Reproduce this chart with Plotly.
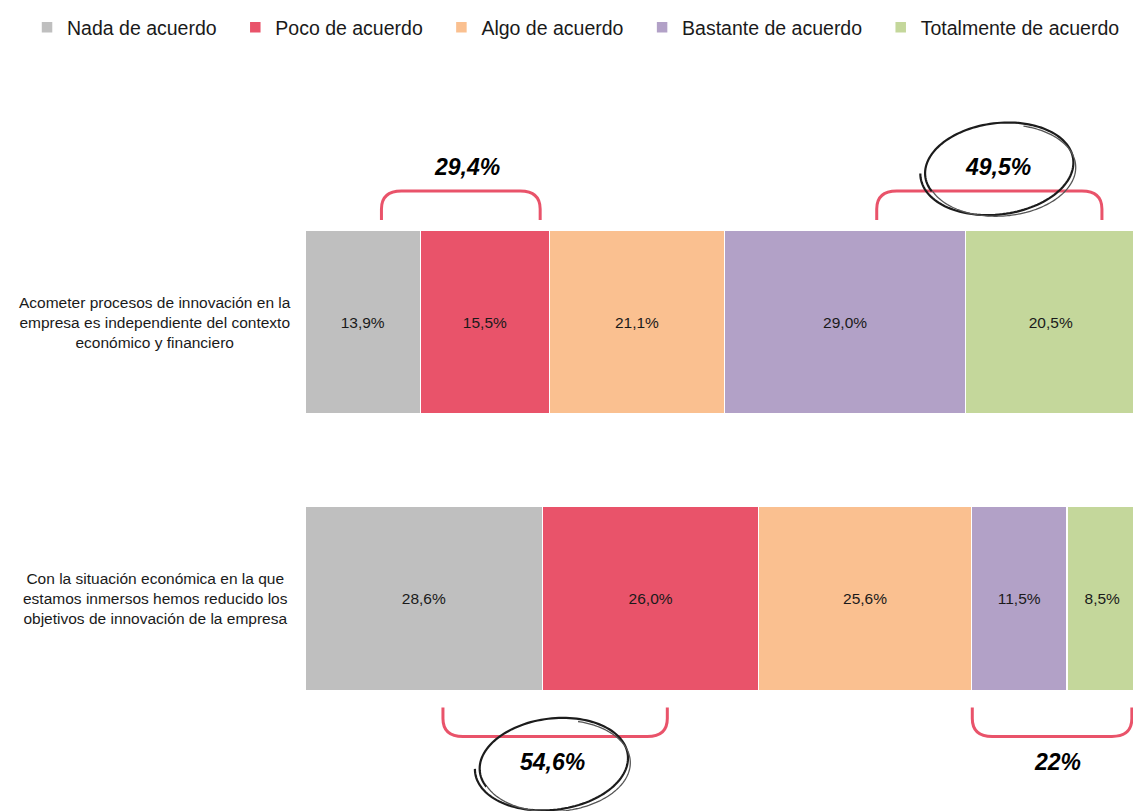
import numpy as np
import plotly.graph_objects as go

# Data
categories = [
    "Acometer procesos de innovación en la<br>empresa es independiente del contexto<br>económico y financiero",
    "Con la situación económica en la que<br>estamos inmersos hemos reducido los<br>objetivos de innovación de la empresa",
]
levels = ["Nada de acuerdo", "Poco de acuerdo", "Algo de acuerdo",
          "Bastante de acuerdo", "Totalmente de acuerdo"]
nada = [13.9, 28.6]
poco = [15.5, 26.0]
algo = [21.1, 25.6]
bastante = [29.0, 11.5]
totalmente = [20.5, 8.5]

# bracket call-outs: which row, span in %, label
bracket_rows = [0, 0, 1, 1]
bracket_x0 = [9.2, 68.8, 16.6, 80.3]
bracket_x1 = [28.3, 95.9, 43.6, 99.5]
bracket_labels = ["29,4%", "49,5%", "54,6%", "22%"]
bracket_label_x = [19.5, 83.4, 29.8, 90.6]
circled = [1, 2]

colors = ["#BFBFBF", "#E9536A", "#FAC090", "#B2A1C7", "#C4D79B"]
red = "#E9536A"
font = "Liberation Sans, Arial, sans-serif"

# pixel sizes of one data unit (plot is 831 px wide for 0-100, rows 276.5 px apart)
PX_X = 831 / 100
PX_Y = 276.5
BAR_W = 0.665
PLOT_TOP = 52      # px inside the figure
PLOT_H = 751
ROW0 = 262         # px from plot top to the centre of the first row

ypos = list(range(len(categories)))
series = [nada, poco, algo, bastante, totalmente]

fig = go.Figure()
for i, (name, vals, col) in enumerate(zip(levels, series, colors)):
    pad = "\u2002\u2009" if i < len(levels) - 1 else ""  # a little more room between legend entries
    fig.add_trace(go.Bar(
        y=ypos, x=vals, name=name + pad, orientation="h",
        width=BAR_W,
        marker=dict(color=col, line=dict(color="white", width=1.5)),
        texttemplate="%{x:.1f}%", textposition="inside",
        insidetextanchor="middle", textangle=0,
        insidetextfont=dict(size=15.5, color="#1a1a1a", family=font),
        hovertemplate="%{x:.1f}%<extra>" + name + "</extra>",
    ))

shapes = []
annotations = []

# category labels, centred left of the bars
for i, cat in enumerate(categories):
    annotations.append(dict(
        x=-0.1805, xref="paper", y=ypos[i], yref="y",
        text=cat, showarrow=False, align="center", xanchor="center",
        font=dict(size=15.5, color="#1a1a1a", family=font),
    ))


def sketch_ellipse(cx, cy, rx, ry, tilt, a0, a1, grow):
    t = np.radians(np.linspace(a0, a1, 140))
    g = 1 + grow * (t - t[0]) / (t[-1] - t[0])
    ex = rx * g * np.cos(t)
    ey = ry * g * np.sin(t)
    c, s = np.cos(np.radians(tilt)), np.sin(np.radians(tilt))
    px = cx + (ex * c - ey * s) / PX_X
    py = cy + (ex * s + ey * c) / PX_Y
    return "M" + " L".join(f"{a:.3f},{b:.4f}" for a, b in zip(px, py))


for k in range(len(bracket_labels)):
    row = bracket_rows[k]
    x0, x1 = bracket_x0[k], bracket_x1[k]
    d = -1 if row == 0 else 1          # up for the first row, down for the second
    gap = 10 if row == 0 else 17
    edge = ypos[row] + d * BAR_W / 2
    yend = edge + d * gap / PX_Y
    ytop = yend + d * 29 / PX_Y
    rx, ry = 20 / PX_X, 18 / PX_Y
    path = (f"M{x0},{yend} L{x0},{ytop - d * ry} Q{x0},{ytop} {x0 + rx},{ytop} "
            f"L{x1 - rx},{ytop} Q{x1},{ytop} {x1},{ytop - d * ry} L{x1},{yend}")
    shapes.append(dict(type="path", path=path, xref="x", yref="y",
                       line=dict(color=red, width=3), layer="above"))
    ylab = ytop + d * (24 if row == 0 else 26) / PX_Y
    annotations.append(dict(
        x=bracket_label_x[k], y=ylab, xref="x", yref="y",
        text="<b><i>" + bracket_labels[k] + "</i></b>", showarrow=False,
        font=dict(size=23, color="black", family=font),
    ))
    if k in circled:
        cy = ylab + 1 / PX_Y
        shapes.append(dict(type="path", xref="x", yref="y", layer="above",
                           path=sketch_ellipse(bracket_label_x[k], cy, 73, 44, -7, 160, 545, 0.07),
                           line=dict(color="#1c1c1c", width=2.2)))
        shapes.append(dict(type="path", xref="x", yref="y", layer="above",
                           path=sketch_ellipse(bracket_label_x[k] + 0.3, cy + 3 / PX_Y, 76, 46, -4, -70, 160, -0.03),
                           line=dict(color="#555555", width=1.3)))

fig.update_layout(
    width=1133, height=803,
    barmode="stack",
    separators=",.",
    paper_bgcolor="white", plot_bgcolor="white",
    margin=dict(l=297, r=5, t=PLOT_TOP, b=0, autoexpand=False),
    font=dict(family=font, color="#1a1a1a"),
    showlegend=True,
    legend=dict(orientation="h", traceorder="normal",
                x=-0.3345, xanchor="left", y=1 + PLOT_TOP / PLOT_H, yanchor="top",
                font=dict(size=19.5, family=font, color="#1a1a1a"),
                itemwidth=30),
    xaxis=dict(range=[0, 100], visible=False, fixedrange=True),
    yaxis=dict(range=[(PLOT_H - ROW0) / PX_Y, -ROW0 / PX_Y],
               visible=False, fixedrange=True),
    shapes=shapes,
    annotations=annotations,
)

fig.write_html("out.html")
